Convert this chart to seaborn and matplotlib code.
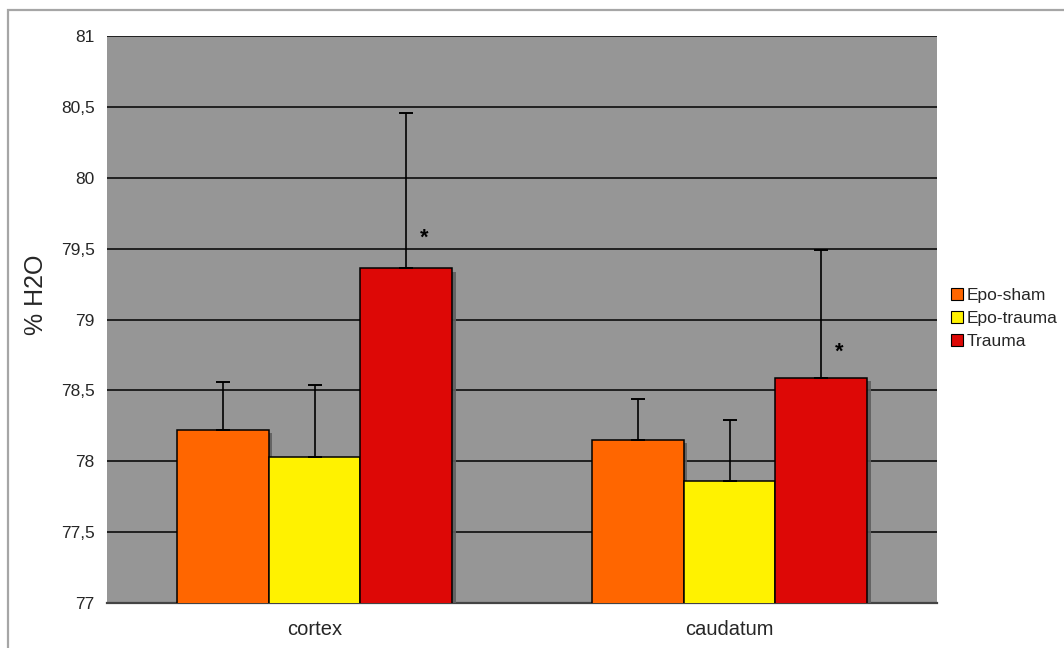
import numpy as np
import pandas as pd
import matplotlib.pyplot as plt
import matplotlib.patheffects as pe
from matplotlib.patches import Patch, Rectangle
import seaborn as sns

# ── data ──────────────────────────────────────────────────
regions = ['cortex', 'caudatum']
groups = ['Epo-sham', 'Epo-trauma', 'Trauma']
colors = ['#FF6600', '#FFF200', '#DD0806']

epo_sham   = [78.22, 78.15]
epo_trauma = [78.03, 77.86]
trauma     = [79.36, 78.59]

err_epo_sham   = [0.34, 0.29]
err_epo_trauma = [0.51, 0.43]
err_trauma     = [1.10, 0.90]

# significance markers next to the Trauma bars (y level)
star_y = [79.575, 78.77]

yticks = [77, 77.5, 78, 78.5, 79, 79.5, 80, 80.5, 81]
ytick_labels = ['77', '77,5', '78', '78,5', '79', '79,5', '80', '80,5', '81']

df = pd.DataFrame({
    'region': regions * 3,
    'group': [g for g in groups for _ in regions],
    'value': epo_sham + epo_trauma + trauma,
    'err': err_epo_sham + err_epo_trauma + err_trauma,
})

sns.set_style('white')
plt.rcParams['font.family'] = ['Liberation Sans', 'DejaVu Sans']

fig = plt.figure(figsize=(10.64, 6.48), dpi=100)
ax = fig.add_axes([107 / 1064, 45 / 648, 830 / 1064, 567 / 648])
ax.set_facecolor('#969696')

sns.barplot(data=df, x='region', y='value', hue='group', order=regions,
            hue_order=groups, palette=colors, width=0.665, errorbar=None,
            edgecolor='black', linewidth=1.1, saturation=1, legend=False,
            ax=ax, zorder=3)

shadow = [pe.SimplePatchShadow(offset=(2.3, -2.3), shadow_rgbFace='#5f5f5f', alpha=0.9),
          pe.Normal()]
for bar in ax.patches:
    bar.set_path_effects(shadow)

# error bars (upper side only), one per bar in hue order
bars = ax.patches
vals = df['value'].values
errs = df['err'].values
xs = [b.get_x() + b.get_width() / 2 for b in bars]
ax.errorbar(xs, vals, yerr=[np.zeros(len(errs)), errs], fmt='none',
            ecolor='black', elinewidth=1.2, capsize=5, capthick=1.4, zorder=4)

# asterisks next to Trauma bars
trauma_x = xs[4:6]
for x, y in zip(trauma_x, star_y):
    ax.text(x + 0.043, y, '*', ha='center', va='center', fontsize=15.5,
            fontweight='bold', color='black', zorder=5)

ax.set_ylim(77, 81)
ax.set_xlim(-0.5, 1.5)
ax.set_yticks(yticks)
ax.set_yticklabels(ytick_labels, fontsize=12.5)
ax.yaxis.grid(True, color='black', linewidth=1.1, zorder=0)
ax.set_axisbelow(True)
ax.tick_params(axis='y', length=0, pad=9)
ax.tick_params(axis='x', which='major', length=0, pad=12, labelsize=14.5)
ax.set_xticks([-0.5, 0.5, 1.5], minor=True)
ax.tick_params(axis='x', which='minor', length=5, width=1, color='#333333', direction='out')

ax.set_xlabel('')
ax.set_ylabel('% H2O', fontsize=18)
ax.yaxis.set_label_coords(-0.071, 0.543)

for side in ['top', 'right', 'left']:
    ax.spines[side].set_visible(False)
ax.spines['bottom'].set_color('#444444')
ax.spines['bottom'].set_linewidth(1.6)

handles = [Patch(facecolor=c, edgecolor='black', linewidth=0.8) for c in colors]
fig.legend(handles, groups, loc='upper left', bbox_to_anchor=(951 / 1064, 1 - 288 / 648),
           frameon=False, fontsize=12.5, handlelength=0.7, handleheight=0.7,
           handletextpad=0.2, labelspacing=0.46, borderpad=0, borderaxespad=0)

# outer chart frame (only top and left edge show in the picture)
fig.patches.append(Rectangle((8 / 1064, -0.1), 1.2, 1 - 9.5 / 648 + 0.1,
                             transform=fig.transFigure, fill=False,
                             edgecolor='#a6a6a6', linewidth=1.6))

fig.savefig('out.png', dpi=100)
